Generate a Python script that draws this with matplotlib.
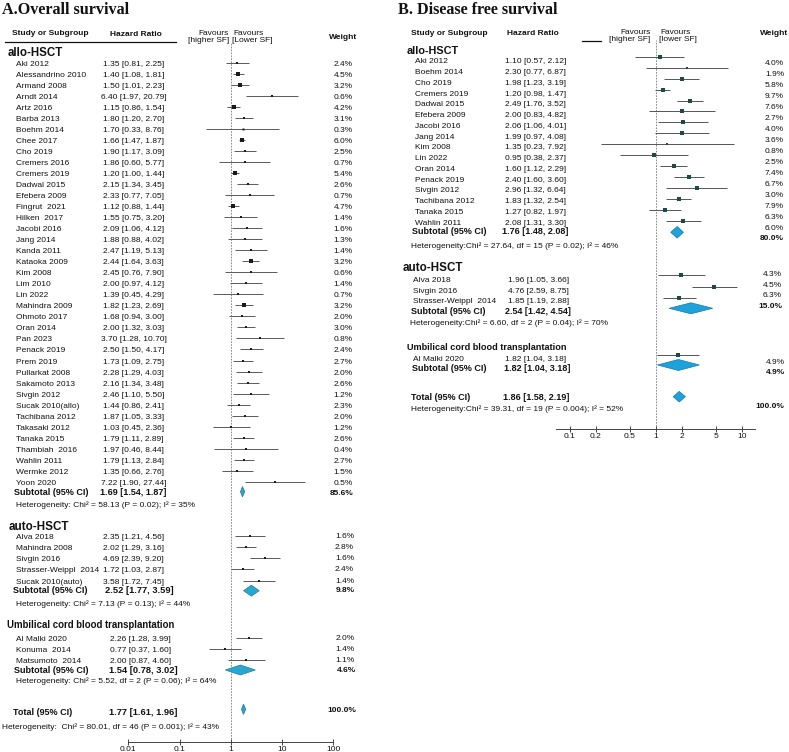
import matplotlib
matplotlib.use('Agg')
import matplotlib.pyplot as plt
from matplotlib.patches import Polygon
import numpy as np

# ---------------- DATA : A. Overall survival ----------------
a_allo_names = ["Aki 2012", "Alessandrino 2010", "Armand 2008", "Arndt 2014", "Artz 2016", "Barba 2013",
                "Boehm 2014", "Chee 2017", "Cho 2019", "Cremers 2016", "Cremers 2019", "Dadwal 2015",
                "Efebera 2009", "Fingrut  2021", "Hilken  2017", "Jacobi 2016", "Jang 2014", "Kanda 2011",
                "Kataoka 2009", "Kim 2008", "Lim 2010", "Lin 2022", "Mahindra 2009", "Ohmoto 2017",
                "Oran 2014", "Pan 2023", "Penack 2019", "Prem 2019", "Pullarkat 2008", "Sakamoto 2013",
                "Sivgin 2012", "Sucak 2010(allo)", "Tachibana 2012", "Takasaki 2012", "Tanaka 2015",
                "Thambiah  2016", "Wahlin 2011", "Wermke 2012", "Yoon 2020"]
a_allo_hr = [1.35, 1.40, 1.50, 6.40, 1.15, 1.80, 1.70, 1.66, 1.90, 1.86, 1.20, 2.15, 2.33, 1.12, 1.55, 2.09,
             1.88, 2.47, 2.44, 2.45, 2.00, 1.39, 1.82, 1.68, 2.00, 3.70, 2.50, 1.73, 2.28, 2.16, 2.46, 1.44,
             1.87, 1.03, 1.79, 1.97, 1.79, 1.35, 7.22]
a_allo_lo = [0.81, 1.08, 1.01, 1.97, 0.86, 1.20, 0.33, 1.47, 1.17, 0.60, 1.00, 1.34, 0.77, 0.88, 0.75, 1.06,
             0.88, 1.19, 1.64, 0.76, 0.97, 0.45, 1.23, 0.94, 1.32, 1.28, 1.50, 1.09, 1.29, 1.34, 1.10, 0.86,
             1.05, 0.45, 1.11, 0.46, 1.13, 0.66, 1.90]
a_allo_hi = [2.25, 1.81, 2.23, 20.79, 1.54, 2.70, 8.76, 1.87, 3.09, 5.77, 1.44, 3.45, 7.05, 1.44, 3.20, 4.12,
             4.02, 5.13, 3.63, 7.90, 4.12, 4.29, 2.69, 3.00, 3.03, 10.70, 4.17, 2.75, 4.03, 3.48, 5.50, 2.41,
             3.33, 2.36, 2.89, 8.44, 2.84, 2.76, 27.44]
a_allo_w = [2.4, 4.5, 3.2, 0.6, 4.2, 3.1, 0.3, 6.0, 2.5, 0.7, 5.4, 2.6, 0.7, 4.7, 1.4, 1.6, 1.3, 1.4, 3.2,
            0.6, 1.4, 0.7, 3.2, 2.0, 3.0, 0.8, 2.4, 2.7, 2.0, 2.6, 1.2, 2.3, 2.0, 1.2, 2.6, 0.4, 2.7, 1.5, 0.5]
a_allo_sub = [1.69, 1.54, 1.87, 85.6]
a_allo_het = "Heterogeneity: Chi\u00b2 = 58.13 (P = 0.02); I\u00b2 = 35%"

a_auto_names = ["Alva 2018", "Mahindra 2008", "Sivgin 2016", "Strasser-Weippl  2014", "Sucak 2010(auto)"]
a_auto_hr = [2.35, 2.02, 4.69, 1.72, 3.58]
a_auto_lo = [1.21, 1.29, 2.39, 1.03, 1.72]
a_auto_hi = [4.56, 3.16, 9.20, 2.87, 7.45]
a_auto_w = [1.6, 2.8, 1.6, 2.4, 1.4]
a_auto_sub = [2.52, 1.77, 3.59, 9.8]
a_auto_het = "Heterogeneity: Chi\u00b2 = 7.13 (P = 0.13); I\u00b2 = 44%"

a_ucb_names = ["Al Malki 2020", "Konuma  2014", "Matsumoto  2014"]
a_ucb_hr = [2.26, 0.77, 2.00]
a_ucb_lo = [1.28, 0.37, 0.87]
a_ucb_hi = [3.99, 1.60, 4.60]
a_ucb_w = [2.0, 1.4, 1.1]
a_ucb_sub = [1.54, 0.78, 3.02, 4.6]
a_ucb_het = "Heterogeneity: Chi\u00b2 = 5.52, df = 2 (P = 0.06); I\u00b2 = 64%"

a_total = [1.77, 1.61, 1.96, 100.0]
a_total_het = "Heterogeneity:  Chi\u00b2 = 80.01, df = 46 (P = 0.001); I\u00b2 = 43%"
a_ticks = [0.01, 0.1, 1, 10, 100]
a_ticklabels = ["0.01", "0.1", "1", "10", "100"]

# ---------------- DATA : B. Disease free survival ----------------
b_allo_names = ["Aki 2012", "Boehm 2014", "Cho 2019", "Cremers 2019", "Dadwal 2015", "Efebera 2009",
                "Jacobi 2016", "Jang 2014", "Kim 2008", "Lin 2022", "Oran 2014", "Penack 2019",
                "Sivgin 2012", "Tachibana 2012", "Tanaka 2015", "Wahlin 2011"]
b_allo_hr = [1.10, 2.30, 1.98, 1.20, 2.49, 2.00, 2.06, 1.99, 1.35, 0.95, 1.60, 2.40, 2.96, 1.83, 1.27, 2.08]
b_allo_lo = [0.57, 0.77, 1.23, 0.98, 1.76, 0.83, 1.06, 0.97, 0.23, 0.38, 1.12, 1.60, 1.32, 1.32, 0.82, 1.31]
b_allo_hi = [2.12, 6.87, 3.19, 1.47, 3.52, 4.82, 4.01, 4.08, 7.92, 2.37, 2.29, 3.60, 6.64, 2.54, 1.97, 3.30]
b_allo_w = [4.0, 1.9, 5.8, 9.7, 7.6, 2.7, 4.0, 3.6, 0.8, 2.5, 7.4, 6.7, 3.0, 7.9, 6.3, 6.0]
b_allo_sub = [1.76, 1.48, 2.08, 80.0]
b_allo_het = "Heterogeneity:Chi\u00b2 = 27.64, df = 15 (P = 0.02); I\u00b2 = 46%"

b_auto_names = ["Alva 2018", "Sivgin 2016", "Strasser-Weippl  2014"]
b_auto_hr = [1.96, 4.76, 1.85]
b_auto_lo = [1.05, 2.59, 1.19]
b_auto_hi = [3.66, 8.75, 2.88]
b_auto_w = [4.3, 4.5, 6.3]
b_auto_sub = [2.54, 1.42, 4.54, 15.0]
b_auto_het = "Heterogeneity:Chi\u00b2 = 6.60, df = 2 (P = 0.04); I\u00b2 = 70%"

b_ucb_names = ["Al Malki 2020"]
b_ucb_hr = [1.82]
b_ucb_lo = [1.04]
b_ucb_hi = [3.18]
b_ucb_w = [4.9]
b_ucb_sub = [1.82, 1.04, 3.18, 4.9]

b_total = [1.86, 1.58, 2.19, 100.0]
b_total_het = "Heterogeneity:Chi\u00b2 = 39.31, df = 19 (P = 0.004); I\u00b2 = 52%"
b_ticks = [0.1, 0.2, 0.5, 1, 2, 5, 10]
b_ticklabels = ["0.1", "0.2", "0.5", "1", "2", "5", "10"]

# ---------------- LAYOUT ----------------
W, H = 789, 752
plt.rcParams['font.family'] = ['Liberation Sans', 'DejaVu Sans']
fig = plt.figure(figsize=(W / 100, H / 100), dpi=100)
tax = fig.add_axes([0, 0, 1, 1])
tax.set_xlim(0, W)
tax.set_ylim(H, 0)
tax.axis('off')

TXT = '#111111'
PX = 100 / 72.0


def t(x, y, s, size=6.0, bold=False, ha='left', family=None, color=TXT):
    # y is visual centre of capitals in pixel coordinates
    kw = {}
    if family:
        kw['family'] = family
    tax.text(x, y + 0.36 * size * PX, s, fontsize=size, fontweight='bold' if bold else 'normal',
             ha=ha, va='baseline', color=color, **kw)


def hrfmt(h, l, u):
    return f"{h:.2f} [{l:.2f}, {u:.2f}]"


def forest_axes(x0, x1, ytop, ybot, xlim, ticks, labels):
    ax = fig.add_axes([x0 / W, 1 - ybot / H, (x1 - x0) / W, (ybot - ytop) / H])
    ax.set_xscale('log')
    ax.set_xlim(*xlim)
    ax.set_ylim(ybot, ytop)
    ax.patch.set_alpha(0)
    for s in ['top', 'left', 'right']:
        ax.spines[s].set_visible(False)
    ax.spines['bottom'].set_linewidth(0.7)
    ax.spines['bottom'].set_color('#444444')
    ax.set_yticks([])
    ax.set_xticks(ticks)
    ax.set_xticklabels(labels)
    ax.minorticks_off()
    ax.tick_params(axis='x', direction='inout', length=5, width=0.7, color='#444444',
                   labelsize=6, pad=0.5, labelcolor=TXT)
    ax.axvline(1, color='#777777', lw=0.6, ls=(0, (2, 1.5)), zorder=1)
    return ax


def studies(ax, ys, hr, lo, hi, w, lc, mc, mscale):
    for y, h, l, u, ww in zip(ys, hr, lo, hi, w):
        ax.plot([l, u], [y, y], color=lc, lw=0.7, solid_capstyle='butt', zorder=2)
        ax.plot([h], [y], marker='s', ms=1.1 + mscale * np.sqrt(ww), color=mc, mec=mc, mew=0, zorder=3)


def diamond(ax, y, h, l, u, half, fc, ec):
    ax.add_patch(Polygon([(l, y), (h, y - half), (u, y), (h, y + half)], closed=True,
                         facecolor=fc, edgecolor=ec, lw=0.5, zorder=4))


# ===================== PANEL A =====================
t(2, 8.5, "A.Overall survival", size=11.6, bold=True, family=['Liberation Serif', 'DejaVu Serif'])
t(12, 32.3, "Study or Subgroup", bold=True)
t(136, 33.5, "Hazard Ratio", bold=True, ha='center')
t(343, 36, "Weight", bold=True, ha='center')
t(229, 32.3, "Favours", ha='right')
t(229.5, 39.3, "[higher SF]", ha='right')
t(233.5, 32.3, "Favours")
t(232.5, 39.3, "[Lower SF]")
tax.plot([5, 176], [41.5, 41.5], color='#111111', lw=0.9)

axA = forest_axes(128.3, 333.3, 42.5, 741.7, (0.01, 100), a_ticks, a_ticklabels)
A_LC, A_MC, A_DF, A_DE = '#5a5a5a', '#1a1a1a', '#2aa7cf', '#1f7fa0'

# allo
t(8, 51.7, "allo-HSCT", size=8.3, bold=True)
ya = [62.7 + 11.03 * i for i in range(len(a_allo_names))]
for y, n, h, l, u, w in zip(ya, a_allo_names, a_allo_hr, a_allo_lo, a_allo_hi, a_allo_w):
    t(16, y, n)
    t(133.5, y, hrfmt(h, l, u), ha='center')
    t(352.5, y, f"{w:.1f}%", ha='right')
studies(axA, ya, a_allo_hr, a_allo_lo, a_allo_hi, a_allo_w, A_LC, A_MC, 0.6)
t(14.3, 491.7, "Subtotal (95% CI)", size=6.5, bold=True)
t(133, 491.7, hrfmt(*a_allo_sub[:3]), size=6.5, bold=True, ha='center')
t(353.3, 491.7, f"{a_allo_sub[3]:.1f}%", bold=True, ha='right')
diamond(axA, 491.7, *a_allo_sub[:3], 5.2, '#35a0bf', '#1f7f9a')
t(16, 504, a_allo_het)

# auto
t(8.3, 525.7, "auto-HSCT", size=8.4, bold=True)
yb = [535.7 + 11.25 * i for i in range(len(a_auto_names))]
for y, n, h, l, u, w in zip(yb, a_auto_names, a_auto_hr, a_auto_lo, a_auto_hi, a_auto_w):
    t(16, y, n)
    t(133.3, y, hrfmt(h, l, u), ha='center')
    t(354, y - 1, f"{w:.1f}%", ha='right')
studies(axA, yb, a_auto_hr, a_auto_lo, a_auto_hi, a_auto_w, A_LC, A_MC, 0.6)
t(13.3, 590, "Subtotal (95% CI)", size=6.5, bold=True)
t(139.8, 590, hrfmt(*a_auto_sub[:3]), size=6.7, bold=True, ha='center')
t(355, 589, f"{a_auto_sub[3]:.1f}%", bold=True, ha='right')
diamond(axA, 590.7, *a_auto_sub[:3], 5.5, A_DF, A_DE)
t(16, 602.7, a_auto_het)

# umbilical cord blood
t(6.7, 624.3, "Umbilical cord blood transplantation", size=6.9, bold=True)
yc = [638, 649.3, 659.7]
for y, n, h, l, u, w in zip(yc, a_ucb_names, a_ucb_hr, a_ucb_lo, a_ucb_hi, a_ucb_w):
    t(16, y, n)
    t(140.3, y, hrfmt(h, l, u), ha='center')
    t(354.3, y - 1, f"{w:.1f}%", ha='right')
studies(axA, yc, a_ucb_hr, a_ucb_lo, a_ucb_hi, a_ucb_w, A_LC, A_MC, 0.6)
t(14.3, 669.3, "Subtotal (95% CI)", size=6.5, bold=True)
t(143.3, 669.3, hrfmt(*a_ucb_sub[:3]), size=6.7, bold=True, ha='center')
t(355.7, 668.5, f"{a_ucb_sub[3]:.1f}%", bold=True, ha='right')
diamond(axA, 670, *a_ucb_sub[:3], 5.0, A_DF, A_DE)
t(16, 680, a_ucb_het)

# total
t(12.7, 712, "Total (95% CI)", size=6.5, bold=True)
t(142.7, 712, hrfmt(*a_total[:3]), size=6.7, bold=True, ha='center')
t(356.7, 708.7, f"{a_total[3]:.1f}%", bold=True, ha='right')
diamond(axA, 709.3, *a_total[:3], 5.2, '#35a0bf', '#1f7f9a')
t(1.7, 725.7, a_total_het)

# ===================== PANEL B =====================
t(398, 8, "B. Disease free survival", size=11.6, bold=True, family=['Liberation Serif', 'DejaVu Serif'])
t(411, 31.7, "Study or Subgroup", bold=True)
t(533, 31.7, "Hazard Ratio", bold=True, ha='center')
t(774, 31.7, "Weight", bold=True, ha='center')
t(650.5, 30.7, "Favours", ha='right')
t(650.5, 37.7, "[higher SF]", ha='right')
t(660, 30.7, "Favours")
t(659, 37.7, "[lower SF]")
tax.plot([582, 601], [40.5, 40.5], color='#111111', lw=0.9)

xb0 = 656 + 86.3 * np.log10(0.07)
xb1 = 656 + 86.3 * np.log10(14)
axB = forest_axes(xb0, xb1, 40, 429.3, (0.07, 14), b_ticks, b_ticklabels)
B_LC, B_MC, B_DF, B_DE = '#555555', '#1e4a44', '#1ea2dc', '#1678a8'

# allo
t(406.7, 50, "allo-HSCT", size=7.8, bold=True)
nb = len(b_allo_names)
yl = [60.3 + 10.76 * i for i in range(nb)]
yf = [56.7 + 10.95 * i for i in range(nb)]
yw = [61.7 + 11.0 * i for i in range(nb)]
for y, y2, n, h, l, u, w in zip(yl, yw, b_allo_names, b_allo_hr, b_allo_lo, b_allo_hi, b_allo_w):
    t(415, y, n)
    t(535.7, y, hrfmt(h, l, u), ha='center')
    t(784, y2, f"{w:.1f}%", ha='right')
studies(axB, yf, b_allo_hr, b_allo_lo, b_allo_hi, b_allo_w, B_LC, B_MC, 0.7)
t(412.3, 230.7, "Subtotal (95% CI)", size=6.5, bold=True)
t(535, 230.7, hrfmt(*b_allo_sub[:3]), size=6.5, bold=True, ha='center')
t(784, 237.3, f"{b_allo_sub[3]:.1f}%", bold=True, ha='right')
diamond(axB, 232.3, *b_allo_sub[:3], 5.8, B_DF, B_DE)
t(411, 245, b_allo_het)

# auto
t(402.3, 266.7, "auto-HSCT", size=8.4, bold=True)
yl = [279, 290, 300]
yf = [275, 286.7, 298.3]
yw = [273.3, 283.7, 294]
for y, y2, n, h, l, u, w in zip(yl, yw, b_auto_names, b_auto_hr, b_auto_lo, b_auto_hi, b_auto_w):
    t(413.3, y, n)
    t(538.3, y, hrfmt(h, l, u), ha='center')
    t(782, y2, f"{w:.1f}%", ha='right')
studies(axB, yf, b_auto_hr, b_auto_lo, b_auto_hi, b_auto_w, B_LC, B_MC, 0.7)
t(411, 311, "Subtotal (95% CI)", size=6.5, bold=True)
t(537.5, 311, hrfmt(*b_auto_sub[:3]), size=6.5, bold=True, ha='center')
t(782.7, 304.7, f"{b_auto_sub[3]:.1f}%", bold=True, ha='right')
diamond(axB, 308.3, *b_auto_sub[:3], 5.5, B_DF, B_DE)
t(410, 322.3, b_auto_het)

# umbilical cord blood
t(406.7, 346.7, "Umbilical cord blood transplantation", size=6.6, bold=True)
for n, h, l, u, w in zip(b_ucb_names, b_ucb_hr, b_ucb_lo, b_ucb_hi, b_ucb_w):
    t(413.3, 357.7, n)
    t(535.3, 357.7, hrfmt(h, l, u), ha='center')
    t(785, 360.7, f"{w:.1f}%", ha='right')
studies(axB, [355], b_ucb_hr, b_ucb_lo, b_ucb_hi, b_ucb_w, B_LC, B_MC, 0.7)
t(412.3, 367.7, "Subtotal (95% CI)", size=6.5, bold=True)
t(537.5, 367.7, hrfmt(*b_ucb_sub[:3]), size=6.5, bold=True, ha='center')
t(785, 370.7, f"{b_ucb_sub[3]:.1f}%", bold=True, ha='right')
diamond(axB, 365, *b_ucb_sub[:3], 5.5, B_DF, B_DE)

# total
t(411, 396.7, "Total (95% CI)", size=6.5, bold=True)
t(536, 396.7, hrfmt(*b_total[:3]), size=6.5, bold=True, ha='center')
t(784, 405, f"{b_total[3]:.1f}%", bold=True, ha='right')
diamond(axB, 396.7, *b_total[:3], 5.3, B_DF, B_DE)
t(411, 407.7, b_total_het)

fig.savefig('out.png', dpi=100)
